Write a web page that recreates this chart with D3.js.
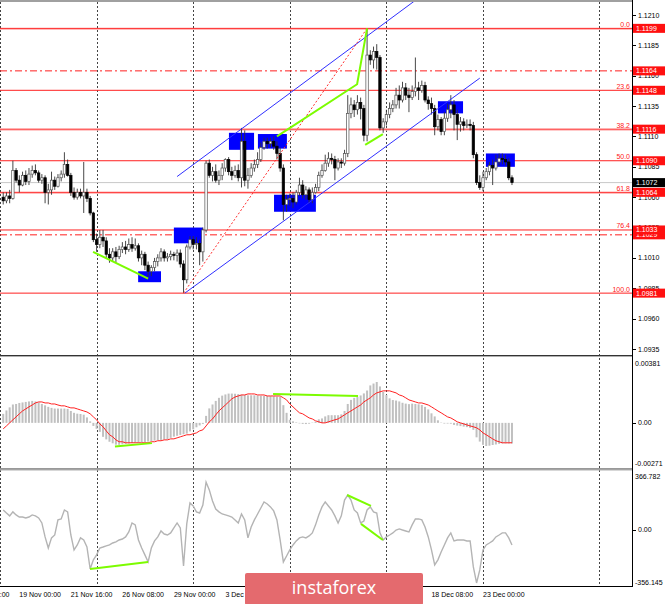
<!DOCTYPE html>
<html><head><meta charset="utf-8">
<script src="https://cdnjs.cloudflare.com/ajax/libs/d3/7.8.5/d3.min.js"></script>
<style>html,body{margin:0;padding:0;background:#fff;overflow:hidden}</style>
</head><body>
<svg id="c" width="665" height="604"></svg>
<script>
// ---------- DATA (EURUSD H4) ----------
const open = [
1.1060,1.1057,1.1061,1.1059,1.1082,1.1074,1.1070,1.1078,1.1073,1.1079,
1.1082,1.1080,1.1074,1.1076,1.1064,1.1066,1.1074,1.1069,1.1076,1.1079,
1.1087,1.1078,1.1064,1.1060,1.1064,1.1061,1.1064,1.1059,1.1047,1.1025,
1.1021,1.1027,1.1024,1.1013,1.1010,1.1015,1.1011,1.1017,1.1019,1.1017,
1.1021,1.1018,1.1020,1.1010,1.1013,1.1004,1.0999,1.1002,1.1007,1.1010,
1.1015,1.1010,1.1011,1.1013,1.1012,1.1014,1.1005,1.0992,1.1019,1.1025,
1.1021,1.1022,1.1015,1.1033,1.1088,1.1078,1.1081,1.1074,1.1078,1.1084,
1.1091,1.1081,1.1078,1.1082,1.1076,1.1106,1.1074,1.1078,1.1084,1.1087,
1.1091,1.1101,1.1106,1.1104,1.1106,1.1102,1.1096,1.1084,1.1054,1.1058,
1.1059,1.1056,1.1064,1.1070,1.1062,1.1066,1.1058,1.1064,1.1068,1.1078,
1.1082,1.1088,1.1092,1.1091,1.1084,1.1089,1.1088,1.1096,1.1129,1.1136,
1.1132,1.1138,1.1133,1.1111,1.1177,1.1173,1.1180,1.1175,1.1117,1.1122,
1.1128,1.1133,1.1136,1.1144,1.1140,1.1150,1.1144,1.1142,1.1147,1.1150,
1.1148,1.1152,1.1140,1.1137,1.1133,1.1118,1.1124,1.1114,1.1125,1.1132,
1.1136,1.1128,1.1120,1.1122,1.1119,1.1120,1.1119,1.1095,1.1072,1.1068,
1.1076,1.1081,1.1086,1.1084,1.1089,1.1092,1.1091,1.1089,1.1076];
const high = [
1.1064,1.1064,1.1066,1.1090,1.1084,1.1078,1.1081,1.1082,1.1084,1.1086,
1.1087,1.1082,1.1079,1.1078,1.1071,1.1081,1.1077,1.1079,1.1082,1.1097,
1.1091,1.1080,1.1068,1.1067,1.1067,1.1089,1.1067,1.1061,1.1048,1.1030,
1.1033,1.1033,1.1027,1.1018,1.1018,1.1019,1.1020,1.1023,1.1024,1.1026,
1.1027,1.1026,1.1022,1.1016,1.1015,1.1007,1.1004,1.1010,1.1013,1.1018,
1.1017,1.1014,1.1016,1.1015,1.1017,1.1017,1.1008,1.1021,1.1028,1.1028,
1.1027,1.1025,1.1035,1.1090,1.1091,1.1085,1.1087,1.1082,1.1088,1.1092,
1.1093,1.1085,1.1086,1.1087,1.1117,1.1115,1.1084,1.1088,1.1091,1.1097,
1.1105,1.1109,1.1109,1.1109,1.1110,1.1106,1.1101,1.1087,1.1062,1.1063,
1.1064,1.1066,1.1076,1.1074,1.1069,1.1068,1.1068,1.1071,1.1081,1.1087,
1.1095,1.1097,1.1096,1.1094,1.1092,1.1092,1.1099,1.1144,1.1142,1.1140,
1.1144,1.1142,1.1136,1.1199,1.1181,1.1184,1.1186,1.1177,1.1125,1.1132,
1.1138,1.1140,1.1150,1.1152,1.1155,1.1154,1.1150,1.1152,1.1175,1.1155,
1.1156,1.1155,1.1143,1.1142,1.1136,1.1128,1.1126,1.1130,1.1137,1.1144,
1.1140,1.1132,1.1126,1.1125,1.1124,1.1124,1.1122,1.1097,1.1078,1.1081,
1.1084,1.1089,1.1091,1.1095,1.1096,1.1096,1.1095,1.1092,1.1078];
const low = [
1.1054,1.1055,1.1055,1.1058,1.1072,1.1064,1.1069,1.1070,1.1070,1.1076,
1.1078,1.1072,1.1071,1.1055,1.1054,1.1062,1.1066,1.1068,1.1073,1.1076,
1.1077,1.1061,1.1058,1.1058,1.1059,1.1047,1.1056,1.1045,1.1023,1.1015,
1.1018,1.1019,1.1010,1.1006,1.1007,1.1006,1.1009,1.1014,1.1013,1.1015,
1.1015,1.1016,1.1007,1.1004,1.1000,1.0994,1.0995,1.0999,1.1003,1.1007,
1.1007,1.1007,1.1008,1.1008,1.1007,1.1002,1.0981,1.0989,1.1017,1.1017,
1.1017,1.1004,1.1007,1.1031,1.1076,1.1073,1.1072,1.1070,1.1074,1.1081,
1.1078,1.1074,1.1076,1.1073,1.1068,1.1069,1.1067,1.1076,1.1081,1.1084,
1.1089,1.1099,1.1100,1.1101,1.1099,1.1091,1.1081,1.1041,1.1048,1.1053,
1.1051,1.1054,1.1061,1.1059,1.1058,1.1055,1.1055,1.1063,1.1065,1.1076,
1.1081,1.1085,1.1087,1.1074,1.1082,1.1084,1.1086,1.1093,1.1125,1.1126,
1.1128,1.1124,1.1106,1.1106,1.1169,1.1166,1.1165,1.1115,1.1113,1.1119,
1.1125,1.1130,1.1133,1.1133,1.1138,1.1140,1.1130,1.1140,1.1143,1.1140,
1.1146,1.1138,1.1132,1.1128,1.1111,1.1115,1.1111,1.1111,1.1122,1.1125,
1.1115,1.1107,1.1114,1.1115,1.1117,1.1115,1.1092,1.1070,1.1066,1.1065,
1.1074,1.1078,1.1070,1.1082,1.1086,1.1087,1.1086,1.1074,1.1070];
const close = [
1.1057,1.1061,1.1059,1.1082,1.1074,1.1070,1.1078,1.1073,1.1079,1.1082,
1.1080,1.1074,1.1076,1.1064,1.1066,1.1074,1.1069,1.1076,1.1079,1.1087,
1.1078,1.1064,1.1060,1.1064,1.1061,1.1064,1.1059,1.1047,1.1025,1.1021,
1.1027,1.1024,1.1013,1.1010,1.1015,1.1011,1.1017,1.1019,1.1017,1.1021,
1.1018,1.1020,1.1010,1.1013,1.1004,1.0999,1.1002,1.1007,1.1010,1.1015,
1.1010,1.1011,1.1013,1.1012,1.1014,1.1005,1.0992,1.1019,1.1025,1.1021,
1.1022,1.1015,1.1033,1.1088,1.1078,1.1081,1.1074,1.1078,1.1084,1.1091,
1.1081,1.1078,1.1082,1.1076,1.1106,1.1074,1.1078,1.1084,1.1087,1.1091,
1.1101,1.1106,1.1104,1.1106,1.1102,1.1096,1.1084,1.1054,1.1058,1.1059,
1.1056,1.1064,1.1070,1.1062,1.1066,1.1058,1.1064,1.1068,1.1078,1.1082,
1.1088,1.1092,1.1091,1.1084,1.1089,1.1088,1.1096,1.1129,1.1136,1.1132,
1.1138,1.1133,1.1111,1.1177,1.1173,1.1180,1.1175,1.1117,1.1122,1.1128,
1.1133,1.1136,1.1144,1.1140,1.1150,1.1144,1.1142,1.1147,1.1150,1.1148,
1.1152,1.1140,1.1137,1.1133,1.1118,1.1124,1.1114,1.1125,1.1132,1.1136,
1.1128,1.1120,1.1122,1.1119,1.1120,1.1119,1.1095,1.1072,1.1068,1.1076,
1.1081,1.1086,1.1084,1.1089,1.1092,1.1091,1.1089,1.1076,1.1072];

const macdHist = [
0.00053,0.00073,0.00091,0.00108,0.00111,0.00117,0.00120,0.00123,0.00126,0.00129,
0.00126,0.00120,0.00111,0.00103,0.00094,0.00088,0.00084,0.00084,0.00084,0.00084,
0.00082,0.00070,0.00059,0.00054,0.00052,0.00048,0.00032,0.00009,-0.00018,-0.00035,
-0.00053,-0.00082,-0.00097,-0.00111,-0.00120,-0.00128,-0.00129,-0.00126,-0.00123,-0.00121,
-0.00118,-0.00117,-0.00117,-0.00114,-0.00113,-0.00110,-0.00107,-0.00104,-0.00101,-0.00100,
-0.00098,-0.00097,-0.00088,-0.00081,-0.00076,-0.00071,-0.00067,-0.00063,-0.00050,-0.00038,
-0.00026,-0.00015,-0.00006,0.00041,0.00085,0.00108,0.00129,0.00147,0.00160,0.00167,
0.00172,0.00172,0.00171,0.00169,0.00166,0.00164,0.00162,0.00162,0.00162,0.00161,
0.00159,0.00158,0.00158,0.00157,0.00156,0.00154,0.00152,0.00104,0.00059,0.00018,
0.00009,0.00003,-0.00003,-0.00006,-0.00007,-0.00005,0.00002,0.00007,0.00021,0.00026,
0.00038,0.00045,0.00045,0.00045,0.00045,0.00050,0.00070,0.00111,0.00135,0.00147,
0.00152,0.00161,0.00173,0.00190,0.00220,0.00231,0.00240,0.00214,0.00182,0.00164,
0.00144,0.00134,0.00131,0.00126,0.00118,0.00113,0.00110,0.00113,0.00111,0.00109,
0.00105,0.00094,0.00079,0.00056,0.00038,0.00015,0.00002,-0.00004,-0.00004,-0.00005,
-0.00012,-0.00016,-0.00019,-0.00022,-0.00025,-0.00029,-0.00041,-0.00085,-0.00110,-0.00129,
-0.00136,-0.00134,-0.00130,-0.00127,-0.00123,-0.00121,-0.00121,-0.00121,-0.00121];
const macdSignal = [
-0.00035,-0.00018,0.00000,0.00018,0.00035,0.00053,0.00070,0.00082,0.00094,0.00105,
0.00117,0.00123,0.00123,0.00117,0.00117,0.00111,0.00111,0.00105,0.00100,0.00100,
0.00094,0.00088,0.00088,0.00082,0.00076,0.00070,0.00064,0.00053,0.00035,0.00018,
-0.00006,-0.00023,-0.00047,-0.00070,-0.00082,-0.00100,-0.00111,-0.00111,-0.00117,-0.00117,
-0.00117,-0.00117,-0.00117,-0.00117,-0.00117,-0.00117,-0.00111,-0.00111,-0.00105,-0.00105,
-0.00100,-0.00100,-0.00094,-0.00094,-0.00088,-0.00082,-0.00076,-0.00070,-0.00070,-0.00064,
-0.00059,-0.00047,-0.00041,-0.00018,0.00006,0.00023,0.00047,0.00070,0.00088,0.00105,
0.00123,0.00141,0.00152,0.00158,0.00164,0.00164,0.00170,0.00170,0.00170,0.00164,
0.00164,0.00164,0.00158,0.00158,0.00158,0.00158,0.00158,0.00147,0.00135,0.00111,
0.00094,0.00076,0.00059,0.00053,0.00041,0.00029,0.00023,0.00012,0.00006,0.00000,
0.00000,0.00006,0.00012,0.00018,0.00023,0.00035,0.00047,0.00059,0.00070,0.00082,
0.00094,0.00105,0.00123,0.00135,0.00147,0.00164,0.00176,0.00182,0.00188,0.00188,
0.00188,0.00182,0.00176,0.00164,0.00158,0.00147,0.00135,0.00129,0.00123,0.00117,
0.00117,0.00111,0.00105,0.00094,0.00082,0.00070,0.00059,0.00047,0.00035,0.00029,
0.00018,0.00006,0.00000,-0.00006,-0.00012,-0.00018,-0.00023,-0.00029,-0.00041,-0.00059,
-0.00070,-0.00082,-0.00094,-0.00105,-0.00111,-0.00117,-0.00117,-0.00117,-0.00117];
const cci = [
124,105,87,112,93,80,80,74,80,93,
87,74,43,-44,-113,-50,-32,62,68,124,
112,-32,-125,-94,-50,-63,-107,-244,-187,-156,
-113,-107,-100,-94,-82,-75,-63,-57,-44,-13,
43,31,-63,-113,-156,-200,-113,-69,-44,-7,
-26,-32,-19,12,43,12,-225,37,168,149,
112,105,155,298,249,180,130,112,99,93,
87,80,62,43,99,62,-50,18,62,99,
136,174,161,143,118,62,-63,-200,-163,-125,
-94,-69,-50,-44,-50,-38,-19,31,93,143,
174,149,124,87,43,87,186,217,186,124,
105,43,55,124,143,112,105,-19,-63,-44,
-32,-19,-1,6,-1,-7,-13,31,68,68,
62,18,-44,-125,-219,-187,-138,-94,-50,-19,
-69,-63,-63,-63,-69,-69,-231,-331,-250,-125,
-94,-82,-69,-44,-32,-19,-19,-50,-94];

const priceTicks = [1.1210,1.1185,1.1160,1.1135,1.1110,1.1085,1.1060,1.1035,1.1010,1.0985,1.0960,1.0935];
// labels that are not hidden by the logo
const timeLabels = ["14 Nov 08:00","19 Nov 00:00","21 Nov 16:00","26 Nov 08:00","29 Nov 00:00","3 Dec 16:00",
                    "18 Dec 08:00","23 Dec 00:00"];
const timeLabelIdx = [-11,5,21,37,53,69,133,149];
const weekGridIdx = [-1,29,59,89,119,149,185];
const fiboLevels = ["0.0","23.6","38.2","50.0","61.8","76.4","100.0"];
const fiboPrices = [1.1199,1.1148,1.1116,1.1090,1.1064,1.1033,1.0981];
const fiboDoubled = [1.1199,1.1116,1.1064];
const dashDotPrices = [1.1164,1.1029];
const lastPrice = 1.1072;
const macdRange = [-0.00271,0.00381];
const cciRange = [-356.145,366.782];
// annotations (bar index, value)
const channelUpper = [[54,1.1077],[130,1.1226]];
const channelLower = [[56.4,1.0981],[148,1.1158]];
const fiboTrend = [[56,1.0981],[113,1.1199]];
const greenMain = [
  [[27.9,1.1015],[45,1.0993]],
  [[85,1.1110],[109.9,1.1153],[113,1.1199]],
  [[112.4,1.1103],[117.9,1.1112]]
];
const blueBoxes = [ // [idx0, idx1, priceTop, priceBottom]
  [41.9,49.0,1.0999,1.0990],
  [53.0,62.0,1.1035,1.1022],
  [70.1,77.9,1.1113,1.1099],
  [79.1,88.1,1.1112,1.1100],
  [84.1,97.1,1.1062,1.1048],
  [135.0,142.8,1.1139,1.1129],
  [149.9,158.9,1.1096,1.1085]
];
const greenMacd = [
  [[34.7,-0.00139],[46.2,-0.00119]],
  [[83.8,0.00170],[110.2,0.00158]]
];
const greenCci = [
  [[26.95,-244],[45,-200]],
  [[106.8,217],[114.2,149]],
  [[111.1,37],[117.9,-63]]
];

// ---------- DRAW ----------
const svg = d3.select("#c");
const AX = 632;
const FONT = "'Liberation Sans', Arial, sans-serif";
const x = d3.scaleLinear().domain([-1,149]).range([0,483]);
const yP = d3.scaleLinear().domain([1.0935,1.1210]).range([349,15]);
const yM = d3.scaleLinear().domain(macdRange).range([469,358]);
const yC = d3.scaleLinear().domain(cciRange).range([587,471]);

const defs = svg.append("defs");
function clip(id,y0,y1){ defs.append("clipPath").attr("id",id).append("rect").attr("x",0).attr("y",y0).attr("width",AX).attr("height",y1-y0); }
clip("cm",2,355); clip("cd",357,469); clip("cc",471,586);

// weekly grid
const grid = svg.append("g");
grid.selectAll("line").data(weekGridIdx).join("line")
  .attr("x1",d=>Math.max(0.5,Math.round(x(d))+0.5)).attr("x2",d=>Math.max(0.5,Math.round(x(d))+0.5))
  .attr("y1",2).attr("y2",586).attr("stroke","#444").attr("stroke-width",1).attr("stroke-dasharray","2,2");

// ----- main panel -----
const gm = svg.append("g").attr("clip-path","url(#cm)");
gm.append("line").attr("x1",0).attr("x2",AX).attr("y1",yP(lastPrice)).attr("y2",yP(lastPrice)).attr("stroke","#c8c8c8");
gm.selectAll(".fibd").data(fiboDoubled).join("line").attr("class","fibd")
  .attr("x1",0).attr("x2",AX).attr("y1",d=>yP(d)+1).attr("y2",d=>yP(d)+1).attr("stroke","#ffb0b0");
gm.selectAll(".fib").data(fiboPrices).join("line").attr("class","fib")
  .attr("x1",0).attr("x2",AX).attr("y1",d=>yP(d)).attr("y2",d=>yP(d)).attr("stroke","#ff2020");
gm.selectAll(".dd").data(dashDotPrices).join("line").attr("class","dd")
  .attr("x1",0).attr("x2",AX).attr("y1",d=>yP(d)).attr("y2",d=>yP(d))
  .attr("stroke","#ff2020").attr("stroke-dasharray","7,3,2,3");
gm.selectAll(".bx").data(blueBoxes).join("rect").attr("class","bx")
  .attr("x",d=>x(d[0])).attr("width",d=>x(d[1])-x(d[0]))
  .attr("y",d=>yP(d[2])).attr("height",d=>yP(d[3])-yP(d[2])).attr("fill","#0000ff");
const idx = d3.range(close.length);
gm.selectAll(".wk").data(idx).join("line").attr("class","wk")
  .attr("x1",i=>x(i)).attr("x2",i=>x(i)).attr("y1",i=>yP(high[i])).attr("y2",i=>yP(low[i]))
  .attr("stroke","#333").attr("stroke-width",0.9);
gm.selectAll(".bd").data(idx).join("rect").attr("class","bd")
  .attr("x",i=>x(i)-1.2).attr("width",2.4)
  .attr("y",i=>yP(Math.max(open[i],close[i])))
  .attr("height",i=>Math.max(0.8,Math.abs(yP(open[i])-yP(close[i]))))
  .attr("fill",i=>close[i]>=open[i]?"#fff":"#000")
  .attr("stroke",i=>close[i]>=open[i]?"#555":"#000").attr("stroke-width",0.7);
const ln = d3.line().x(d=>x(d[0])).y(d=>yP(d[1]));
gm.append("path").attr("d",ln(channelUpper)).attr("stroke","#3030ff").attr("fill","none");
gm.append("path").attr("d",ln(channelLower)).attr("stroke","#3030ff").attr("fill","none");
gm.append("path").attr("d",ln(fiboTrend)).attr("stroke","#ff3030").attr("fill","none").attr("stroke-dasharray","2,2");
greenMain.forEach(g=>gm.append("path").attr("d",ln(g)).attr("stroke","#7cfc00").attr("stroke-width",2).attr("fill","none"));
svg.selectAll(".ft").data(fiboPrices).join("text").attr("class","ft")
  .attr("x",AX-2).attr("y",d=>yP(d)-1.5).attr("text-anchor","end")
  .attr("font-family",FONT).attr("font-size",7).attr("fill","#ff2020").text((d,i)=>fiboLevels[i]);

// ----- MACD panel -----
const gd = svg.append("g").attr("clip-path","url(#cd)");
gd.selectAll(".hb").data(idx).join("rect").attr("class","hb")
  .attr("x",i=>x(i)-1).attr("width",2)
  .attr("y",i=>Math.min(yM(0),yM(macdHist[i]))).attr("height",i=>Math.abs(yM(macdHist[i])-yM(0)))
  .attr("fill","#c0c0c0");
gd.append("path").attr("d",d3.line().x((d,i)=>x(i)).y(d=>yM(d))(macdSignal))
  .attr("stroke","#ff2020").attr("fill","none").attr("stroke-width",1);
const lnM = d3.line().x(d=>x(d[0])).y(d=>yM(d[1]));
greenMacd.forEach(g=>gd.append("path").attr("d",lnM(g)).attr("stroke","#7cfc00").attr("stroke-width",2).attr("fill","none"));

// ----- CCI panel -----
const gc = svg.append("g").attr("clip-path","url(#cc)");
gc.append("path").attr("d",d3.line().x((d,i)=>x(i)).y(d=>yC(d))(cci))
  .attr("stroke","#b4b4b4").attr("fill","none").attr("stroke-width",1.4);
const lnC = d3.line().x(d=>x(d[0])).y(d=>yC(d[1]));
greenCci.forEach(g=>gc.append("path").attr("d",lnC(g)).attr("stroke","#7cfc00").attr("stroke-width",2).attr("fill","none"));

// ----- frames / separators -----
svg.append("rect").attr("x",0).attr("y",0).attr("width",AX).attr("height",2).attr("fill","#a0a0a0");
[355,468.5].forEach(y=>{
  svg.append("line").attr("x1",0).attr("x2",AX).attr("y1",y+0.5).attr("y2",y+0.5).attr("stroke","#333");
  svg.append("line").attr("x1",0).attr("x2",AX).attr("y1",y+1.5).attr("y2",y+1.5).attr("stroke","#b0b0b0");
});
svg.append("line").attr("x1",0).attr("x2",AX).attr("y1",586.5).attr("y2",586.5).attr("stroke","#000");
svg.append("line").attr("x1",AX+0.5).attr("x2",AX+0.5).attr("y1",0).attr("y2",587).attr("stroke","#000");

// ----- right price axis -----
const ra = svg.append("g").attr("font-family",FONT).attr("font-size",7).attr("fill","#000");
ra.selectAll(".tk").data(priceTicks).join("line").attr("class","tk")
  .attr("x1",AX).attr("x2",AX+4).attr("y1",d=>Math.round(yP(d))+0.5).attr("y2",d=>Math.round(yP(d))+0.5).attr("stroke","#000");
ra.selectAll(".tl").data(priceTicks).join("text").attr("class","tl")
  .attr("x",AX+6).attr("y",d=>yP(d)+2.5).text(d=>d.toFixed(4));
const boxPrices = dashDotPrices.concat(fiboPrices);
const pb = svg.append("g").attr("font-family",FONT).attr("font-size",7);
boxPrices.forEach(p=>{
  pb.append("rect").attr("x",AX+1).attr("y",yP(p)-4.5).attr("width",33).attr("height",9).attr("fill","#ff1010");
  pb.append("text").attr("x",AX+4).attr("y",yP(p)+2.5).attr("fill","#fff").text(p.toFixed(4));
});
pb.append("rect").attr("x",AX+1).attr("y",yP(lastPrice)-4.5).attr("width",33).attr("height",9).attr("fill","#000");
pb.append("text").attr("x",AX+4).attr("y",yP(lastPrice)+2.5).attr("fill","#fff").text(lastPrice.toFixed(4));

const ma = svg.append("g").attr("font-family",FONT).attr("font-size",7).attr("fill","#000");
ma.append("text").attr("x",AX+3).attr("y",yM(macdRange[1])+8).text(macdRange[1].toFixed(5));
ma.append("line").attr("x1",AX).attr("x2",AX+4).attr("y1",Math.round(yM(0))+0.5).attr("y2",Math.round(yM(0))+0.5).attr("stroke","#000");
ma.append("text").attr("x",AX+6).attr("y",yM(0)+2.5).text("0.00");
ma.append("text").attr("x",AX+3).attr("y",yM(macdRange[0])-3).text(macdRange[0].toFixed(5));
ma.append("text").attr("x",AX+3).attr("y",yC(cciRange[1])+8).text(cciRange[1].toFixed(3));
ma.append("line").attr("x1",AX).attr("x2",AX+4).attr("y1",Math.round(yC(0))+0.5).attr("y2",Math.round(yC(0))+0.5).attr("stroke","#000");
ma.append("text").attr("x",AX+6).attr("y",yC(0)+2.5).text("0.00");
ma.append("text").attr("x",AX+3).attr("y",yC(cciRange[0])-2).text(cciRange[0].toFixed(3));

// time axis labels (clipped to the visible area left of the logo / plot)
defs.append("clipPath").attr("id","ct").append("rect").attr("x",0).attr("y",587).attr("width",AX).attr("height",17);
svg.append("g").attr("clip-path","url(#ct)").attr("font-family",FONT).attr("font-size",7).attr("fill","#000")
  .selectAll("text").data(timeLabelIdx).join("text")
  .attr("x",d=>x(d)).attr("y",597).text((d,i)=>timeLabels[i]);

// logo
svg.append("rect").attr("x",245).attr("y",573).attr("width",178).attr("height",32).attr("rx",2).attr("fill","#e46a6e");
svg.append("text").attr("x",334).attr("y",594).attr("text-anchor","middle")
  .attr("font-family","'Open Sans', sans-serif").attr("font-size",18).attr("fill","#fff").text("instaforex");
</script>
</body></html>
